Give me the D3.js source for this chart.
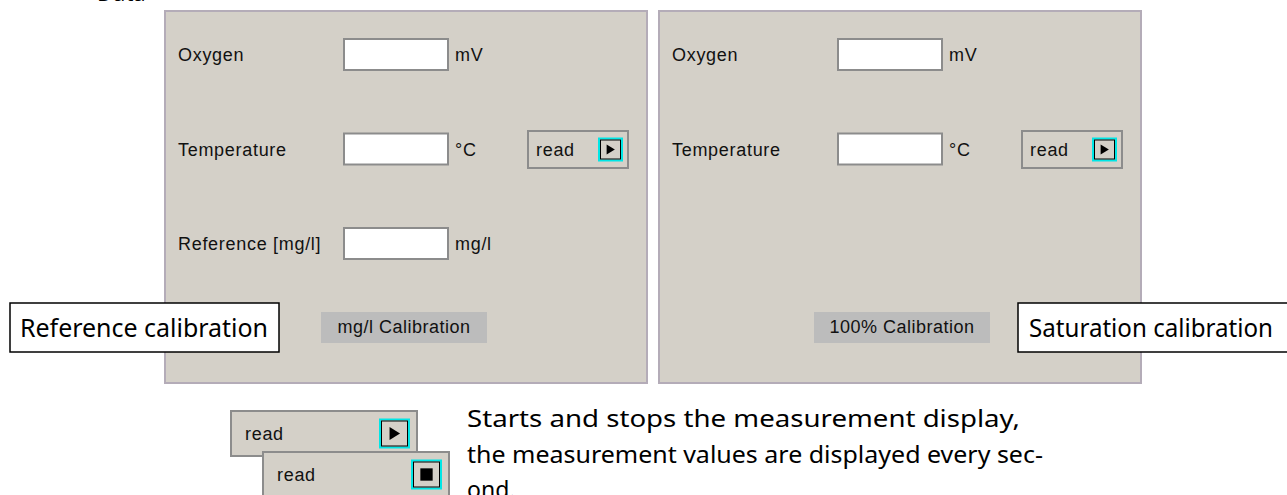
<!DOCTYPE html>
<html>
<head>
<meta charset="utf-8">
<script src="https://cdn.jsdelivr.net/npm/d3@7"></script>
<style>
  body { margin: 0; background: #fff; }
  svg { display: block; }
</style>
</head>
<body>
<svg width="1287" height="495"></svg>
<script>
// screen content
var panelTitles = ["Reference calibration", "Saturation calibration"];
var fieldLabels = [["Oxygen", "Temperature", "Reference [mg/l]"], ["Oxygen", "Temperature"]];
var fieldUnits = [["mV", "°C", "mg/l"], ["mV", "°C"]];
var calibButtons = ["mg/l Calibration", "100% Calibration"];
var readStates = ["play", "stop"];
var helpLines = [
  "Starts and stops the measurement display,",
  "the measurement values are displayed every sec-",
  "ond."
];

var svg = d3.select('svg');
var uiFont = '"Liberation Sans", Arial, sans-serif';
var docFont = '"Noto Sans", sans-serif';
var uiSize = 18, uiSpacing = 0.7;

// cut-off heading above the panels
svg.append('text')
    .attr('x', 97).attr('y', 1)
    .attr('font-family', docFont).attr('font-size', 22)
    .attr('fill', '#000')
    .text('Data');

var panelX = d3.scaleLinear().domain([0, 1]).range([164, 658]);
var rowY = d3.scaleLinear().domain([0, 2]).range([39, 228]);

function uiText(sel) {
  return sel.attr('font-family', uiFont).attr('font-size', uiSize)
      .attr('letter-spacing', uiSpacing).attr('fill', '#111');
}

function icon(g, x, y, w, h, kind) {
  g.append('rect').attr('x', x).attr('y', y).attr('width', w).attr('height', h)
      .attr('fill', '#d4d0c8').attr('stroke', '#00e6e6').attr('stroke-width', 2);
  g.append('rect').attr('x', x + 1.5).attr('y', y + 1.5).attr('width', w - 3).attr('height', h - 3)
      .attr('fill', 'none').attr('stroke', '#000').attr('stroke-width', 1);
  var cx = x + w / 2, cy = y + h / 2, s = h * 0.22;
  if (kind === 'play') {
    g.append('path')
        .attr('d', 'M' + (cx - s * 0.8) + ',' + (cy - s * 1.05) + 'L' + (cx + s * 0.9) + ',' + cy + 'L' + (cx - s * 0.8) + ',' + (cy + s * 1.05) + 'Z')
        .attr('fill', '#000');
  } else {
    g.append('rect').attr('x', cx - s).attr('y', cy - s).attr('width', 2 * s).attr('height', 2 * s)
        .attr('fill', '#000');
  }
}

function readButton(g, x, y, w, h, kind, iconW, iconH, textDx, iconDx) {
  g.append('rect').attr('x', x).attr('y', y).attr('width', w).attr('height', h)
      .attr('fill', '#d4d0c8').attr('stroke', '#8c8c8c').attr('stroke-width', 2);
  uiText(g.append('text').attr('x', x + textDx).attr('y', y + h / 2 + 6.5)).text('read');
  icon(g, x + iconDx, y + (h - iconH) / 2, iconW, iconH, kind);
}

panelTitles.forEach(function(title, p) {
  var g = svg.append('g').attr('transform', 'translate(' + panelX(p) + ',0)');

  g.append('rect')
      .attr('x', 1).attr('y', 11).attr('width', 482).attr('height', 372)
      .attr('fill', '#d4d0c8').attr('stroke', '#b4acb8').attr('stroke-width', 2);

  var rows = g.selectAll('g.row')
      .data(fieldLabels[p])
      .enter().append('g')
      .attr('class', 'row')
      .attr('transform', function(d, i) { return 'translate(0,' + rowY(i) + ')'; });

  uiText(rows.append('text').attr('x', 14).attr('y', 22))
      .text(function(d) { return d; });

  rows.append('rect')
      .attr('x', 180).attr('y', 0).attr('width', 104).attr('height', 31)
      .attr('fill', '#fff').attr('stroke', '#8c8c8c').attr('stroke-width', 2);

  uiText(rows.append('text').attr('x', 291).attr('y', 22))
      .text(function(d, i) { return fieldUnits[p][i]; });

  readButton(g, 364, 131, 100, 37, 'play', 23, 22, 8, 71);

  // calibration button
  var cw = p === 0 ? 166 : 176, cx0 = p === 0 ? 157 : 156;
  g.append('rect').attr('x', cx0).attr('y', 312).attr('width', cw).attr('height', 31)
      .attr('fill', '#bcbcbc');
  uiText(g.append('text').attr('x', cx0 + cw / 2).attr('y', 333))
      .attr('text-anchor', 'middle').attr('letter-spacing', 0.5)
      .text(calibButtons[p]);
});

// caption boxes
var captionX = [10, 1018], captionW = [269, 300], captionTextX = [20, 1029], captionLen = [248, 244];
panelTitles.forEach(function(t, i) {
  svg.append('rect').attr('x', captionX[i]).attr('y', 303).attr('width', captionW[i]).attr('height', 49)
      .attr('fill', '#fff').attr('stroke', '#000').attr('stroke-width', 1.5);
  svg.append('text').attr('x', captionTextX[i]).attr('y', 337)
      .attr('font-family', docFont).attr('font-size', 26)
      .attr('textLength', captionLen[i]).attr('lengthAdjust', 'spacingAndGlyphs')
      .attr('fill', '#000').text(t);
});

// legend for the read button states
var bottom = svg.append('g');
readStates.forEach(function(k, i) {
  readButton(bottom, 231 + i * 32, 411 + i * 41, 186, 45, k, 29, 28, 14, 149);
});

var lineLen = [553, 576, null];
svg.selectAll('text.help')
    .data(helpLines)
    .enter().append('text')
    .attr('class', 'help')
    .attr('x', 467)
    .attr('y', function(d, i) { return 427 + i * 35.5; })
    .attr('font-family', docFont).attr('font-size', 23)
    .attr('fill', '#000')
    .each(function(d, i) {
      if (lineLen[i]) d3.select(this).attr('textLength', lineLen[i]).attr('lengthAdjust', 'spacingAndGlyphs');
    })
    .text(function(d) { return d; });
</script>
</body>
</html>
